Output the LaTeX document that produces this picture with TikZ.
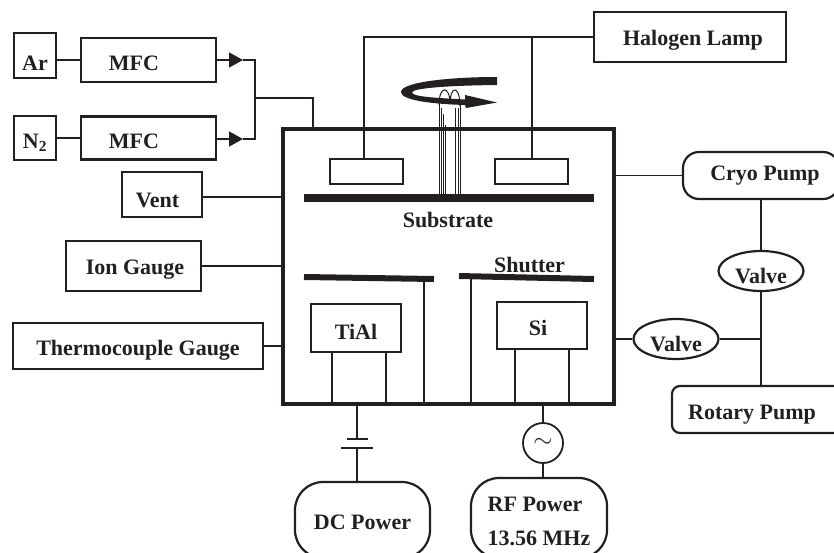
\documentclass[tikz,border=0pt]{standalone}
\usepackage{fontspec}
\setmainfont{Liberation Serif}
\usetikzlibrary{arrows.meta, positioning, shapes.geometric}
\definecolor{mInk}{HTML}{231F20}
\tikzset{
  labelFont/.style={font=\bfseries\fontsize{22}{34}\selectfont},
  boxSize/.style 2 args={minimum width=#1pt, minimum height=#2pt},
  capLift/.style={text height=#1pt, text depth=0pt},
  boxNode/.style={draw, line width=2.2pt, inner sep=0pt, labelFont},
  roundNode/.style={boxNode, rounded corners=#1pt},
  valveNode/.style={boxNode, ellipse, boxSize={85}{40}, capLift=24},
  plateNode/.style={fill, inner sep=0pt},
  wire/.style={line width=1.5pt},
  post/.style={line width=2.2pt},
  shutterBar/.style={line width=6pt},
  gasArrow/.style={wire, -{Triangle[length=14pt, width=15pt]}}
}
\begin{document}
\begin{tikzpicture}[x=1pt, y=-1pt, color=mInk]
    \useasboundingbox (0,0) rectangle (834,552);
    \node[boxNode, line width=4pt, boxSize={331}{275}] (chamber) at (448.5,266.5) {};

    \node[boxNode, boxSize={42}{45}, capLift=30] (ar) at (35,55.5) {Ar};
    \node[boxNode, boxSize={42}{44}, capLift=21] (nitrogen) at (35,138) {N\textsubscript{2}};
    \node[boxNode, boxSize={135}{44}, capLift=21] (mfcA) at (148.5,60) {MFC\hspace*{29pt}};
    \node[boxNode, boxSize={135}{43}, capLift=21] (mfcB) at (148.5,138) {MFC\hspace*{29pt}};
    \node[boxNode, boxSize={80}{45}, capLift=26] (vent) at (162,194.5) {Vent\hspace*{9pt}};
    \node[boxNode, boxSize={135}{50}, capLift=17] (ionGauge) at (133.5,266) {\hspace*{3pt}Ion Gauge};
    \node[boxNode, boxSize={250}{46}, capLift=18] (thermoGauge) at (138,346) {Thermocouple Gauge};
    \node[boxNode, boxSize={192}{50}, capLift=17.5] (halogen) at (690,37) {\hspace*{6pt}Halogen Lamp};

    \node[boxNode, boxSize={73}{25}] (heaterL) at (366.5,171.5) {};
    \node[boxNode, boxSize={73}{25}] (heaterR) at (531.5,171.5) {};
    \node[plateNode, boxSize={290}{8}] (substrate) at (449,198) {};
    \node[labelFont, inner sep=0pt] (substrateText) at (448,220) {Substrate};
    \node[labelFont, inner sep=0pt] (shutterText) at (529.5,265) {Shutter};

    \node[boxNode, boxSize={90}{48}, capLift=22] (tial) at (356,328) {TiAl};
    \node[boxNode, boxSize={90}{47}, capLift=20] (si) at (542,325.5) {Si\hspace*{8pt}};

    \node[roundNode=28, boxSize={135}{76}, capLift=19] (dcPower) at (362.5,520) {DC Power};
    \node[roundNode=28, boxSize={136}{80}, align=left] (rfPower) at (539,518) {\rule{0pt}{22pt}RF Power\\13.56 MHz};
    \node[draw, line width=1.8pt, circle, minimum size=40pt, inner sep=0pt] (rfSource) at (543,443) {\fontsize{24}{24}\selectfont$\sim$};

    \node[roundNode=16, boxSize={156}{47}] (cryoPump) at (761,175.5) {\hspace*{8pt}Cryo Pump};
    \node[roundNode=8, boxSize={178}{47}, capLift=19] (rotaryPump) at (761,409.5) {Rotary Pump\hspace*{18pt}};
    \node[valveNode] (valveTop) at (761,271) {Valve};
    \node[valveNode] (valveSide) at (676,339) {Valve};

    \coordinate (tipA) at (243,60);
    \coordinate (tipB) at (243,139);
    \coordinate (gasA) at (255,60);
    \coordinate (gasB) at (255,139);
    \coordinate (gasJoin) at (255,98);
    \coordinate (gasIn) at (313,98);
    \coordinate (lampL) at (364,37);
    \coordinate (lampR) at (532,37);
    \coordinate (pumpJoin) at (761,339);
    \coordinate (shutterL) at (424,279);
    \coordinate (shutterR) at (471,277);
    \coordinate (ventIn) at (202,197);
    \coordinate (capA) at (357,439);
    \coordinate (capB) at (357,448);

    \draw[wire, line width=2pt] (ar.east |- mfcA) -- (mfcA);
    \draw[wire, line width=2pt] (nitrogen) -- (mfcB);
    \draw[gasArrow] (mfcA) -- (tipA);
    \draw[gasArrow] (mfcB.east |- tipB) -- (tipB);
    \draw[wire] (tipA) -- (gasA) -- (gasB) -- (tipB);
    \draw[wire] (gasJoin) -- (gasIn) -- (gasIn |- chamber.north);

    \draw[wire] (ventIn) -- (ventIn -| chamber.west);
    \draw[wire] (ionGauge) -- (ionGauge -| chamber.west);
    \draw[wire] (thermoGauge) -- (thermoGauge -| chamber.west);

    \draw[wire] (halogen.west) -- (lampL) -- (lampL |- heaterL.north);
    \draw[wire] (lampR) -- (lampR |- heaterR.north);

    \fill (497,77) .. controls (450,77) and (401,82) .. (401,92)
      .. controls (401,100) and (430,104) .. (465,105) -- (466,108) -- (497,102.5)
      -- (465,95) -- (465,99.5) .. controls (440,98) and (412,97) .. (412,92.5)
      .. controls (412,88) and (450,85.5) .. (497,85) -- cycle;
    \draw[line width=1pt] (439,105) .. controls (439,85) and (450,85) .. (450,104);
    \draw[line width=1pt] (450,104) .. controls (450,85) and (460,85) .. (460,106);
    \foreach \sx/\sy in {439/103,441/108,443/114,445/125,455/108,458/108,460/105} {
      \draw[line width=0.9pt] (\sx,\sy) -- (\sx,195);
    }

    \draw[shutterBar] (304,277) -- (434,279);
    \draw[shutterBar] (459,276) -- (594,279);
    \draw[post] (shutterL) -- (shutterL |- chamber.south);
    \draw[post] (shutterR) -- (shutterR |- chamber.south);
    \foreach \nm/\lx in {tial/332,tial/386,si/515,si/569} {
      \draw[post] (\lx,0 |- \nm.south) -- (\lx,0 |- chamber.south);
    }

    \draw[wire] (capA |- chamber.south) -- (capA);
    \draw[wire] (capB) -- (capB |- dcPower.north);
    \draw[wire] ([xshift=-10pt]capA) -- ([xshift=11pt]capA);
    \draw[wire] ([xshift=-16pt]capB) -- ([xshift=16pt]capB);
    \draw[wire] (rfSource |- chamber.south) -- (rfSource);
    \draw[wire] (rfSource) -- (rfSource |- rfPower.north);

    \draw[wire] (cryoPump.west) -- (cryoPump.west -| chamber.east);
    \draw[wire] (cryoPump) -- (valveTop);
    \draw[wire] (valveTop) -- (rotaryPump);
    \draw[wire] (valveSide) -- (valveSide -| chamber.east);
    \draw[wire] (valveSide) -- (pumpJoin);
\end{tikzpicture}
\end{document}
